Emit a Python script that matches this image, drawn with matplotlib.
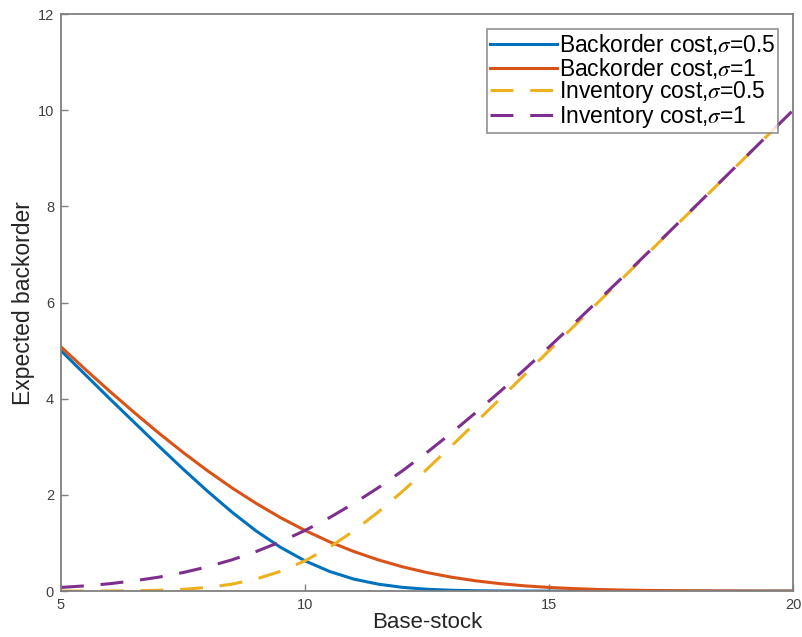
import matplotlib
matplotlib.use("Agg")
import matplotlib.pyplot as plt

# base-stock levels
base_stock = [5, 5.5, 6, 6.5, 7, 7.5, 8, 8.5, 9, 9.5, 10, 10.5, 11, 11.5, 12, 12.5,
              13, 13.5, 14, 14.5, 15, 15.5, 16, 16.5, 17, 17.5, 18, 18.5, 19, 19.5, 20]

# values
backorder_05 = [5.00, 4.50, 4.00, 3.51, 3.02, 2.54, 2.08, 1.645, 1.25, 0.91, 0.63, 0.41,
                0.25, 0.145, 0.078, 0.039, 0.018, 0.008, 0.003, 0.001, 0.0004, 0.0001,
                0, 0, 0, 0, 0, 0, 0, 0, 0]
backorder_1 = [5.08, 4.61, 4.155, 3.715, 3.29, 2.886, 2.505, 2.15, 1.824, 1.527, 1.262,
               1.027, 0.824, 0.65, 0.505, 0.386, 0.29, 0.214, 0.155, 0.11, 0.077, 0.053,
               0.035, 0.023, 0.015, 0.01, 0.006, 0.0035, 0.002, 0.0013, 0.0009]
inventory_05 = [0.0, 0.001, 0.003, 0.008, 0.018, 0.038, 0.077, 0.145, 0.253, 0.412, 0.631,
                0.912, 1.253, 1.645, 2.077, 2.538, 3.018, 3.508, 4.003, 4.501, 5.0, 5.5,
                6.0, 6.5, 7.0, 7.5, 8.0, 8.5, 9.0, 9.5, 10.0]
inventory_1 = [0.077, 0.11, 0.155, 0.215, 0.29, 0.386, 0.505, 0.65, 0.824, 1.027, 1.262,
               1.527, 1.824, 2.15, 2.505, 2.886, 3.29, 3.715, 4.155, 4.61, 5.077, 5.553,
               6.035, 6.523, 7.015, 7.51, 8.006, 8.504, 9.002, 9.501, 10.001]

x_ticks = [5, 10, 15, 20]
y_ticks = [0, 2, 4, 6, 8, 10, 12]

plt.rcParams['font.family'] = ['Liberation Sans', 'DejaVu Sans']
plt.rcParams['mathtext.fontset'] = 'stix'

fig = plt.figure(figsize=(8.02, 6.37), dpi=100)
ax = fig.add_axes([0.076, 0.072, 0.913, 0.906])

lw = 2.2
ax.plot(base_stock, backorder_05, color='#0072BD', lw=lw, label=r'Backorder cost,$\sigma$=0.5')
ax.plot(base_stock, backorder_1, color='#D95319', lw=lw, label=r'Backorder cost,$\sigma$=1')
ax.plot(base_stock, inventory_05, color='#EDB120', lw=lw, dashes=(7.5, 5.5),
        label=r'Inventory cost,$\sigma$=0.5')
ax.plot(base_stock, inventory_1, color='#7E2F8E', lw=lw, dashes=(7.5, 5.5),
        label=r'Inventory cost,$\sigma$=1')

ax.set_xlim(5, 20)
ax.set_ylim(0, 12)
ax.set_xticks(x_ticks)
ax.set_yticks(y_ticks)
ax.tick_params(direction='in', length=5, width=1.0, colors='#808080',
               labelcolor='#404040', labelsize=10.5)
ax.tick_params(axis='x', pad=5)
ax.tick_params(axis='y', pad=5)
for sp in ax.spines.values():
    sp.set_color('#808080')
    sp.set_linewidth(1.3)

ax.set_xlabel('Base-stock', fontsize=16, color='#262626', labelpad=0)
ax.set_ylabel('Expected backorder', fontsize=16.5, color='#262626', labelpad=2)

leg = ax.legend(loc='upper right', bbox_to_anchor=(0.9795, 0.974), fontsize=16.5,
                frameon=True, fancybox=False, handlelength=2.9, handletextpad=0.1,
                labelspacing=-0.05, borderpad=0.12, borderaxespad=0)
leg.get_frame().set_edgecolor('#808080')
leg.get_frame().set_linewidth(1.3)

fig.savefig('out.png', dpi=100)
